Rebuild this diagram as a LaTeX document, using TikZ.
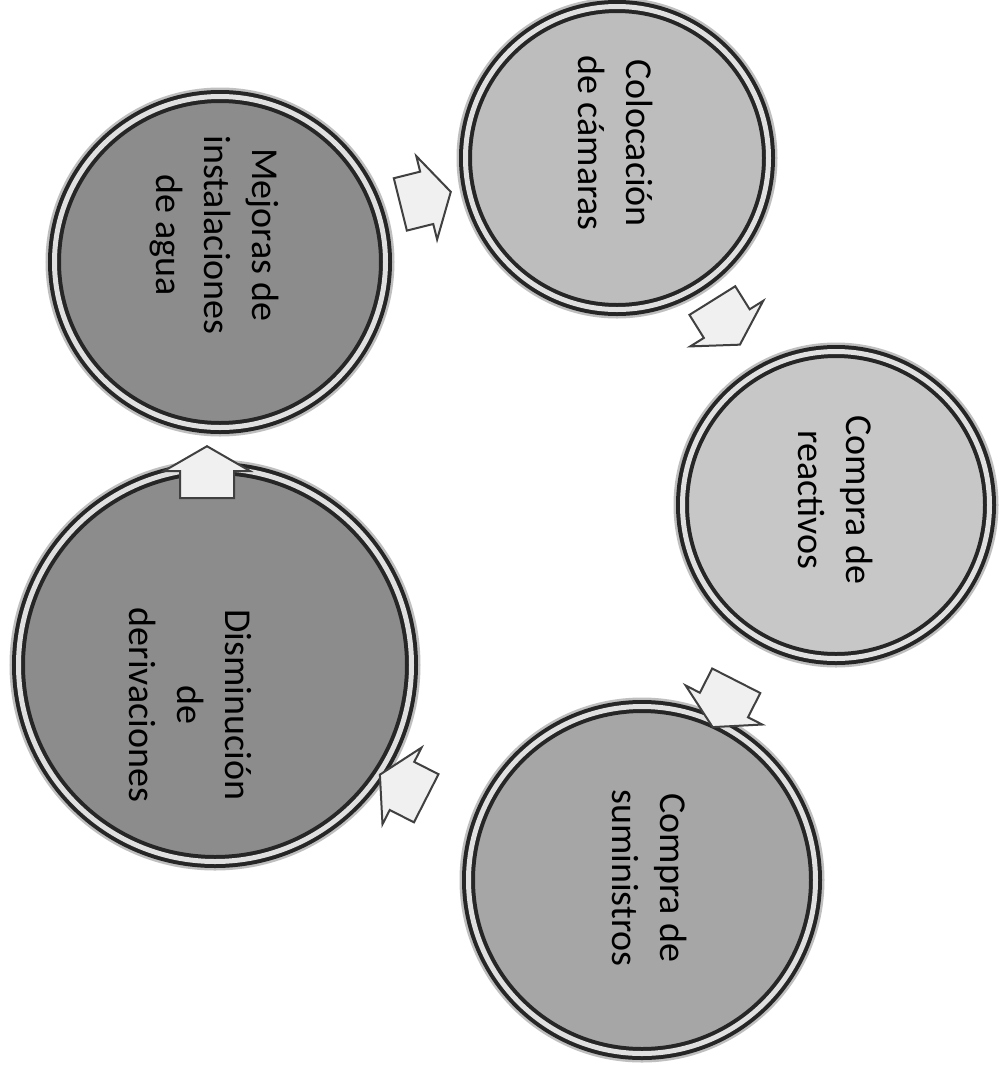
\documentclass[tikz,border=0pt]{standalone}
\usepackage{fontspec}
\setmainfont{Carlito}
\usetikzlibrary{shapes.arrows}
\begin{document}
\begin{tikzpicture}[x=1pt,y=-1pt,
  disc/.style={circle, inner sep=0pt, outer sep=0pt, draw=black!85, line width=4pt,
     double=black!12, double distance=5pt,
     preaction={draw=black!25, line width=18pt}},
  lbl/.style={rotate=-90, align=center, font=\fontsize{38}{48}\selectfont, text=black},
  cyclearrow/.style={single arrow, draw=black!75, line width=2pt, fill=black!6,
     minimum height=52pt, minimum width=84pt, single arrow head extend=16pt,
     single arrow tip angle=120, inner xsep=0pt, inner ysep=26pt}]
\useasboundingbox[fill=white] (0,0) rectangle (1003,1069);
% circles
\node[disc, fill=black!26, minimum size=303pt] (col) at (617,158) {};
\node[disc, fill=black!45, minimum size=331pt] (mej) at (220,262) {};
\node[disc, fill=black!22, minimum size=307pt] (rea) at (836,505) {};
\node[disc, fill=black!35, minimum size=347pt] (sum) at (642,880) {};
\node[disc, fill=black!45, minimum size=393pt] (dis) at (215,665) {};
% texts
\node[lbl] (colT) at (616,143) {Colocación\\de cámaras};
\node[lbl] (mejT) at (214,235) {Mejoras de\\instalaciones\\de agua};
\node[lbl] (reaT) at (836,500) {Compra de\\reactivos};
\node[lbl] (sumT) at (650,878) {Compra de\\suministros};
\node[lbl] (disT) at (190,705) {Disminución\\de\\derivaciones};
% arrows
\node[cyclearrow, rotate=14] (a1) at (418,200) {};
\node[cyclearrow, rotate=-58] (a2) at (722,316) {};
\node[cyclearrow, rotate=-117] (a3) at (728,697) {};
\node[cyclearrow, rotate=153] (a4) at (410,790) {};
\node[cyclearrow, rotate=90] (a5) at (207,480) {};
\end{tikzpicture}
\end{document}
